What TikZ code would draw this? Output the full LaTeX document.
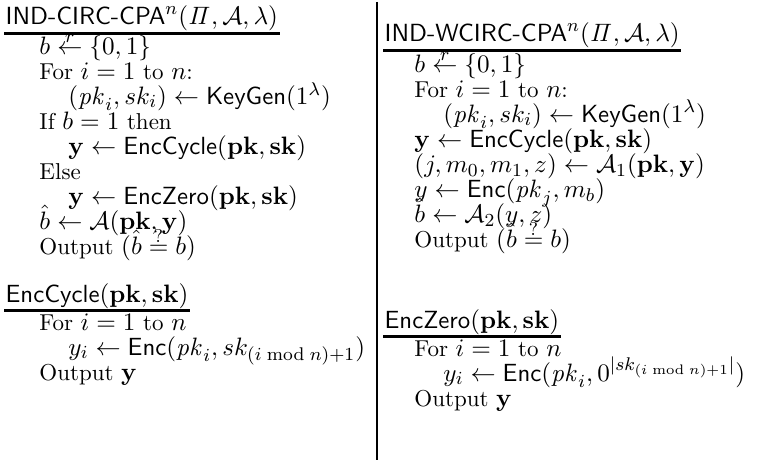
\documentclass[tikz,border=0pt]{standalone}
\usepackage{tikz}
\usetikzlibrary{positioning,calc}

% math and sans a little larger than the roman words
\DeclareMathSizes{10}{10.8}{7.8}{5.8}
\lineskiplimit=-\maxdimen
\newcommand{\ind}{\hspace*{12.6pt}}
\newcommand{\alg}[1]{\mbox{\fontsize{10.8}{13}\selectfont\sffamily #1}}
% small symbol set close above a relation
\newcommand{\tightover}[2]{\stackrel{\raisebox{-2.8pt}[\dimexpr\height-2.8pt][0pt]{$\scriptstyle #1$}}{#2}}

\begin{document}
\begin{tikzpicture}[x=0.435pt, y=-0.435pt,
  titlebox/.style={anchor=base west, inner xsep=0.5pt, inner ysep=0.8pt, font=\fontsize{10}{12}\selectfont},
  bodybox/.style={anchor=base west, align=left, inner sep=0pt, font=\fontsize{10}{10.9}\selectfont},
  underline/.style={line width=1pt},
  divider/.style={line width=1.2pt}]
\useasboundingbox (0,0) rectangle (762,460);
% left column: the game and EncCycle
% (a body node's base is its last line, 25.06 units per line)
\node[titlebox] (circ) at (4,25) {$\alg{IND-CIRC-CPA}^n(\mathit{\Pi},\mathcal{A},\lambda)$};
\draw[underline] (circ.south west) -- (circ.south east);
\node[bodybox] (circbody) at ($(circ.base west)+(35,{29+8*25.06})$) {%
$b \tightover{r}{\leftarrow} \{0,1\}$\\
For $i=1$ to $n$:\\
\ind$(\mathit{pk}_i, sk_i) \leftarrow \alg{KeyGen}(1^\lambda)$\\
If $b=1$ then\\
\ind$\mathbf{y} \leftarrow \alg{EncCycle}(\mathbf{pk},\mathbf{sk})$\\
Else\\
\ind$\mathbf{y} \leftarrow \alg{EncZero}(\mathbf{pk},\mathbf{sk})$\\
$\hat{b} \leftarrow \mathcal{A}(\mathbf{pk},\mathbf{y})$\\
Output $(\hat{b} \tightover{?}{=} b)$};
\node[titlebox] (cycle) at (4,302) {$\alg{EncCycle}(\mathbf{pk},\mathbf{sk})$};
\draw[underline] (cycle.south west) -- (cycle.south east);
\node[bodybox] (cyclebody) at ($(cycle.base west)+(35,{28+2*25.06})$) {%
For $i=1$ to $n$\\
\ind$y_i \leftarrow \alg{Enc}(\mathit{pk}_i, sk_{(i \bmod n)+1})$\\
Output $\mathbf{y}$};
% separator
\coordinate (bartop) at (377,2);
\coordinate (barbot) at (377,460);
\draw[divider] (bartop) -- (barbot);
% right column: the weak game and EncZero
\node[titlebox] (wcirc) at (383,42) {$\alg{IND-WCIRC-CPA}^n(\mathit{\Pi},\mathcal{A},\lambda)$};
\draw[underline] (wcirc.south west) -- (wcirc.south east);
\node[bodybox] (wcircbody) at ($(wcirc.base west)+(31,{30+7*25.06})$) {%
$b \tightover{r}{\leftarrow} \{0,1\}$\\
For $i=1$ to $n$:\\
\ind$(\mathit{pk}_i, sk_i) \leftarrow \alg{KeyGen}(1^\lambda)$\\
$\mathbf{y} \leftarrow \alg{EncCycle}(\mathbf{pk},\mathbf{sk})$\\
$(j, m_0, m_1, z) \leftarrow \mathcal{A}_1(\mathbf{pk},\mathbf{y})$\\
$y \leftarrow \alg{Enc}(\mathit{pk}_j, m_b)$\\
$\hat{b} \leftarrow \mathcal{A}_2(y, z)$\\
Output $(\hat{b} \tightover{?}{=} b)$};
\node[titlebox] (zero) at (383,328) {$\alg{EncZero}(\mathbf{pk},\mathbf{sk})$};
\draw[underline] (zero.south west) -- (zero.south east);
\node[bodybox] (zerobody) at ($(zero.base west)+(31,{28+2*25.06})$) {%
For $i=1$ to $n$\\
\ind$y_i \leftarrow \alg{Enc}(\mathit{pk}_i, 0^{|sk_{(i \bmod n)+1}|})$\\
Output $\mathbf{y}$};
\end{tikzpicture}
\end{document}
